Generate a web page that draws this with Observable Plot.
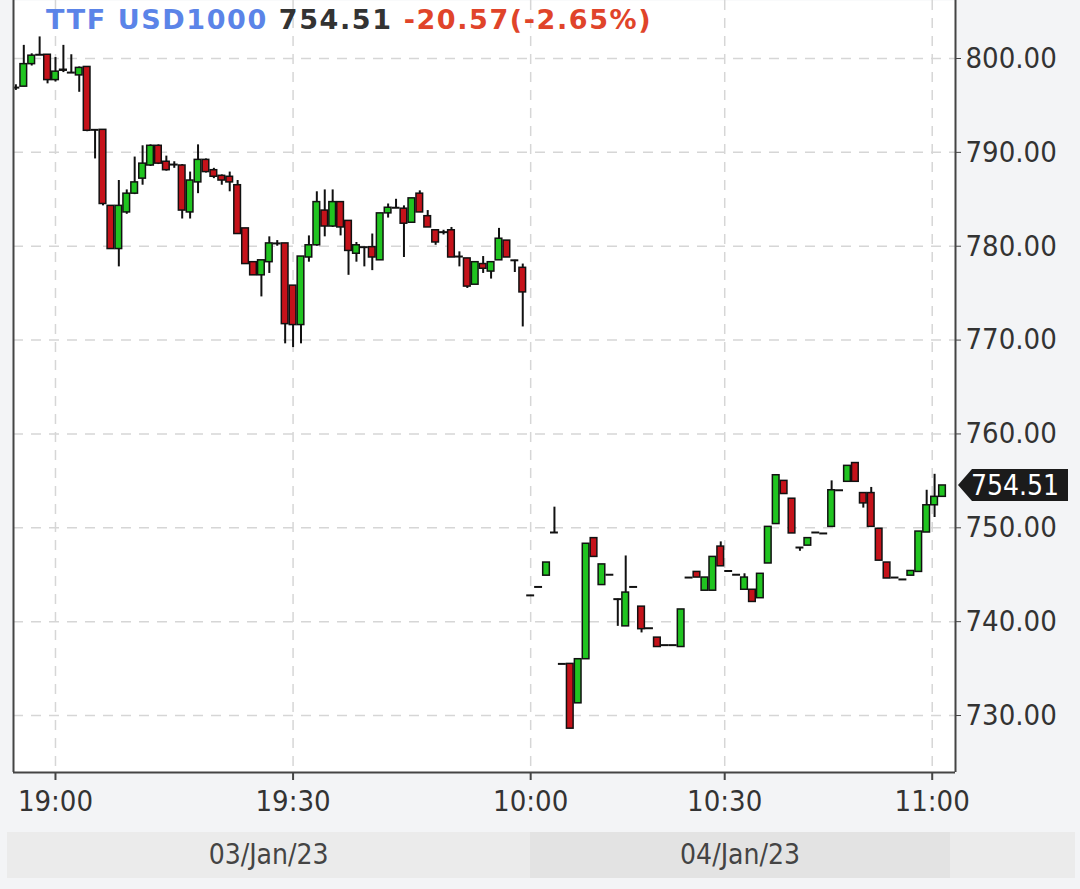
<!DOCTYPE html>
<html>
<head>
<meta charset="utf-8">
<script src="https://cdn.jsdelivr.net/npm/d3@7"></script>
<script src="https://cdn.jsdelivr.net/npm/@observablehq/plot@0.6"></script>
<style>
  html, body { margin: 0; padding: 0; background: #f3f4f6; }
  #wrap { position: relative; width: 1080px; height: 889px; overflow: hidden; }
  #title { position: absolute; left: 46px; top: 4px; font-family: "DejaVu Sans", sans-serif; font-weight: bold; font-size: 27px; letter-spacing: 1.6px; white-space: nowrap; }
  #datebar { position: absolute; left: 7px; top: 832px; width: 1068px; height: 46px; background: #ebebeb; }
  .dseg { position: absolute; top: 0; height: 46px; line-height: 46px; text-align: center; font-family: "DejaVu Sans Condensed", "DejaVu Sans", sans-serif; font-size: 28px; color: #444; }
</style>
</head>
<body>
<div id="wrap">
  <div id="chart"></div>
  <div id="datebar"></div>
  <div id="title"><span style="color:#5b84e8">TTF USD1000</span> <span style="color:#333">754.51</span> <span style="color:#e0442a">-20.57(-2.65%)</span></div>
</div>
<script>
// ---- data (slot = bar position; session 1: 03/Jan/23 18:55-19:59, session 2: 04/Jan/23 from 10:00) ----
const firstSlot = -5;
const opens = [
  796.9, 797.0, 799.4, 800.4, 800.4, 797.7, 798.8, 798.5, 798.2, 799.1,
  792.4, 792.4, 784.3, 779.7, 783.6, 785.6, 787.2, 788.6, 790.7, 789.0,
  788.7, 788.6, 783.6, 786.8, 789.2, 788.1, 787.5, 787.4, 786.5, 781.9,
  778.3, 776.9, 778.3, 780.3, 780.3, 775.8, 771.6, 778.8, 780.1, 783.8,
  782.1, 784.7, 782.7, 779.2, 779.9, 779.9, 778.5, 783.5, 784.1, 784.0,
  782.5, 785.6, 783.2, 781.7, 781.5, 781.7, 778.9, 778.7, 775.9, 778.1,
  777.3, 778.5, 780.6, 778.5, 777.7,
  742.8, 743.7, 744.9, 749.5, 735.5, 735.5, 731.3, 736.0, 748.9, 743.9,
  745.0, 742.4, 739.5, 743.7, 741.6, 739.3, 738.3, 737.5, 737.5, 737.3,
  744.7, 745.3, 743.3, 743.3, 748.0, 745.4, 745.0, 743.4, 743.4, 742.5,
  746.2, 750.4, 755.0, 753.1, 747.9, 748.1, 749.5, 749.4, 750.1, 754.0,
  754.9, 756.9, 753.7, 753.7, 749.9, 746.3, 744.7, 744.5, 744.9, 745.3,
  749.5, 752.4, 753.3
];
const highs = [
  797.2, 801.4, 800.5, 802.3, 800.4, 800.1, 801.4, 800.4, 799.1, 799.1,
  792.4, 792.4, 784.3, 787.0, 786.0, 789.5, 790.7, 790.8, 790.8, 789.6,
  789.0, 788.7, 787.9, 790.8, 789.3, 788.3, 787.6, 787.9, 787.0, 781.9,
  778.3, 778.5, 781.0, 780.6, 780.3, 775.8, 778.9, 781.1, 785.8, 786.0,
  786.0, 784.7, 782.7, 780.4, 779.9, 781.3, 783.5, 784.5, 785.0, 784.3,
  785.1, 785.9, 783.8, 781.7, 781.7, 782.0, 779.4, 778.7, 778.3, 778.9,
  778.3, 781.9, 780.6, 778.5, 778.1,
  742.8, 743.7, 746.3, 752.2, 735.5, 735.5, 736.0, 748.3, 748.9, 746.1,
  745.0, 742.4, 747.0, 743.7, 741.6, 739.3, 738.3, 737.5, 737.5, 741.3,
  744.7, 745.3, 744.7, 746.9, 748.5, 745.4, 745.0, 745.1, 743.4, 745.1,
  750.1, 755.6, 755.0, 753.1, 747.9, 748.9, 749.5, 749.4, 755.0, 754.0,
  756.6, 756.9, 753.7, 754.3, 749.9, 746.3, 744.7, 744.5, 745.4, 749.6,
  754.0, 755.7, 754.51
];
const lows = [
  796.6, 797.0, 799.2, 800.4, 797.3, 797.5, 798.5, 798.4, 796.4, 792.2,
  789.3, 784.3, 779.7, 777.8, 783.4, 785.5, 786.5, 788.5, 788.7, 788.0,
  788.3, 782.9, 782.9, 785.6, 787.8, 787.2, 786.5, 785.8, 781.3, 778.1,
  776.9, 774.6, 777.1, 780.0, 769.6, 769.2, 769.6, 778.3, 780.0, 781.0,
  782.0, 781.1, 776.9, 778.3, 777.8, 777.4, 778.5, 783.0, 784.1, 778.8,
  782.5, 783.6, 782.0, 780.1, 781.2, 778.8, 777.8, 775.5, 775.9, 777.1,
  776.5, 778.5, 778.8, 777.2, 771.4,
  742.8, 743.7, 744.9, 749.5, 735.5, 728.6, 731.3, 736.0, 746.9, 743.9,
  745.0, 739.5, 739.5, 743.7, 738.8, 739.3, 737.3, 737.5, 737.5, 737.3,
  744.7, 744.7, 743.3, 743.3, 745.9, 745.4, 745.0, 743.4, 742.1, 742.5,
  746.2, 750.4, 753.6, 749.4, 747.5, 748.1, 749.5, 749.4, 750.1, 754.0,
  754.9, 754.9, 752.1, 750.1, 746.5, 744.6, 744.7, 744.5, 744.9, 745.3,
  749.5, 751.1, 753.3
];
const closes = [
  796.9, 799.4, 800.3, 800.4, 797.7, 798.6, 798.7, 798.5, 799.0, 792.3,
  792.4, 784.5, 779.7, 784.3, 785.6, 786.8, 788.8, 790.7, 788.8, 788.1,
  788.7, 783.8, 787.0, 789.2, 787.9, 787.4, 787.0, 786.8, 781.3, 778.1,
  776.9, 778.5, 780.3, 780.3, 771.7, 771.6, 778.9, 780.1, 784.7, 782.1,
  784.7, 782.0, 779.5, 780.1, 779.9, 778.8, 783.5, 784.1, 784.1, 782.4,
  785.1, 783.6, 782.0, 780.4, 781.5, 778.8, 778.9, 775.7, 778.3, 777.6,
  778.3, 780.8, 778.8, 778.5, 775.08,
  742.8, 743.7, 746.3, 749.5, 735.5, 728.6, 736.0, 748.3, 746.9, 746.1,
  745.0, 742.4, 743.1, 743.7, 739.2, 739.3, 737.3, 737.5, 737.5, 741.3,
  744.7, 744.7, 744.7, 746.9, 745.9, 745.4, 745.0, 744.7, 742.1, 745.1,
  750.1, 755.6, 753.6, 749.4, 747.9, 748.9, 749.5, 749.4, 754.0, 754.0,
  756.6, 754.9, 752.6, 750.1, 746.5, 744.6, 744.7, 744.5, 745.4, 749.6,
  752.4, 753.3, 754.51
];
const xTicks = [0, 30, 60, 84.5, 110.7];
const xLabels = ["19:00", "19:30", "10:00", "10:30", "11:00"];
const yTicks = [730, 740, 750, 760, 770, 780, 790, 800];
const dateLabels = ["03/Jan/23", "04/Jan/23"];
const sessionStartSlots = [-5.3, 60];
const lastPrice = 754.51;

const xDomain = [-5.3, 113.64];
const yDomain = [723.93, 806.18];
const green = "#20c420", red = "#c5121a";

const bars = opens.map((o, i) => ({
  slot: firstSlot + i, open: o, high: highs[i], low: lows[i], close: closes[i]
}));
const bodies = bars.filter(d => d.open !== d.close);
const dojis = bars.filter(d => d.open === d.close);
const labelOf = new Map(xTicks.map((t, i) => [t, xLabels[i]]));

const axisFont = `"DejaVu Sans Condensed", "DejaVu Sans", sans-serif`;

const chart = Plot.plot({
  width: 1080, height: 826,
  marginTop: 0, marginLeft: 13, marginRight: 125, marginBottom: 54,
  x: {domain: xDomain, axis: null},
  y: {domain: yDomain, axis: null},
  style: {background: "transparent", fontFamily: axisFont, fontSize: "29px", color: "#333", overflow: "visible"},
  marks: [
    Plot.frame({fill: "white", stroke: null}),
    Plot.gridX(xTicks, {stroke: "#d6d6d6", strokeOpacity: 1, strokeWidth: 1.5, strokeDasharray: "10,8"}),
    Plot.gridY(yTicks, {stroke: "#d6d6d6", strokeOpacity: 1, strokeWidth: 1.5, strokeDasharray: "10,8"}),
    Plot.ruleX(bars, {x: "slot", y1: "low", y2: "high", stroke: "#111", strokeWidth: 2, clip: true}),
    Plot.rect(bodies, {
      x1: d => d.slot - 0.42, x2: d => d.slot + 0.42, y1: "open", y2: "close",
      fill: d => d.close >= d.open ? green : red, stroke: "#111", strokeWidth: 1.5, clip: true
    }),
    Plot.ruleY(dojis, {x1: d => d.slot - 0.5, x2: d => d.slot + 0.5, y: "close", stroke: "#111", strokeWidth: 2, clip: true}),
    Plot.axisX(xTicks, {label: null, tickFormat: d => labelOf.get(d), tickSize: 8, tickPadding: 10, strokeWidth: 2, stroke: "#444", fill: "#333"}),
    Plot.axisY(yTicks, {label: null, anchor: "right", tickFormat: d => d.toFixed(2), tickSize: 5, tickPadding: 5, stroke: "#444", fill: "#333"}),
    Plot.ruleX(xDomain, {stroke: "#444", strokeWidth: 2}),
    Plot.ruleY([yDomain[0]], {stroke: "#444", strokeWidth: 2})
  ]
});
document.getElementById("chart").appendChild(chart);

// last price tag
const yS = chart.scale("y"), xS = chart.scale("x");
const py = yS.apply(lastPrice);
const px = xS.apply(xDomain[1]) + 3;
const svg = d3.select(chart);
svg.append("path")
  .attr("d", `M${px},${py} L${px + 14},${py - 16} L${px + 110},${py - 16} L${px + 110},${py + 16} L${px + 14},${py + 16} Z`)
  .attr("fill", "#1b1b1b");
svg.append("text")
  .attr("x", px + 13).attr("y", py).attr("dy", "0.36em")
  .attr("text-anchor", "start")
  .attr("fill", "white").attr("font-family", axisFont).attr("font-size", 28)
  .text(lastPrice.toFixed(2));

// date bar
const bar = document.getElementById("datebar");
const segEdges = [xS.apply(sessionStartSlots[0]), xS.apply(sessionStartSlots[1]), xS.apply(113)];
dateLabels.forEach((lab, i) => {
  const seg = document.createElement("div");
  seg.className = "dseg";
  const left = i === 0 ? 0 : segEdges[1] - 7;
  const right = segEdges[i + 1] - 7;
  seg.style.left = left + "px";
  seg.style.width = (right - left) + "px";
  if (i === 1) seg.style.background = "#e3e3e3";
  seg.textContent = lab;
  bar.appendChild(seg);
});
</script>
</body>
</html>
